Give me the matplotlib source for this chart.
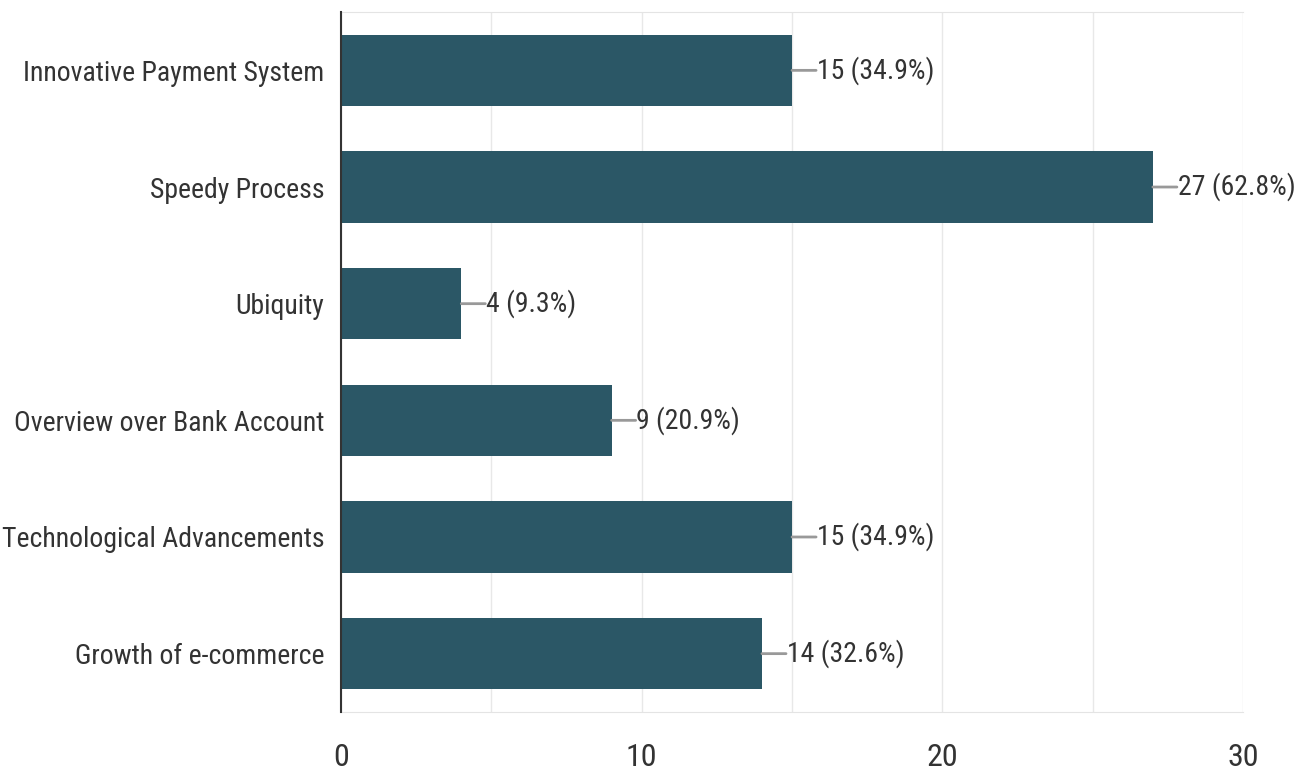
import matplotlib.pyplot as plt
from matplotlib.ticker import MultipleLocator

plt.rcParams['font.family'] = ['Roboto Condensed', 'DejaVu Sans']

# Survey answers, top to bottom
categories = [
    'Innovative Payment System',
    'Speedy Process',
    'Ubiquity',
    'Overview over Bank Account',
    'Technological Advancements',
    'Growth of e-commerce',
]
counts = [15, 27, 4, 9, 15, 14]
percents = [34.9, 62.8, 9.3, 20.9, 34.9, 32.6]
x_ticks = [0, 10, 20, 30]

bar_color = '#2b5766'
text_color = '#333333'

fig = plt.figure(figsize=(13.06, 7.76), dpi=100)
ax = fig.add_axes([0.2611, 0.0825, 0.6907, 0.902])

ypos = list(range(len(categories)))
ax.barh(ypos, counts, height=0.61, color=bar_color, zorder=3)

ax.set_ylim(len(categories) - 0.5, -0.5)
ax.set_xlim(0, 30)
ax.set_yticks(ypos)
ax.set_yticklabels(categories, fontsize=20, color=text_color)
ax.set_xticks(x_ticks)
ax.set_xticklabels([str(t) for t in x_ticks], fontsize=23, color=text_color)
ax.xaxis.set_minor_locator(MultipleLocator(5))
ax.tick_params(axis='y', length=0, pad=12)
ax.tick_params(axis='x', which='both', length=0, pad=22)

ax.grid(axis='x', which='both', color='#e8e8e8', linewidth=1, zorder=0)

for side in ['top', 'bottom']:
    ax.spines[side].set_color('#e4e4e4')
ax.spines['right'].set_visible(False)
ax.spines['left'].set_color('#333333')
ax.spines['left'].set_linewidth(1.5)
ax.spines['left'].set_zorder(4)

# value labels with short leader lines
for y, c, p in zip(ypos, counts, percents):
    ax.annotate('', xy=(c, y), xytext=(c + 0.8, y),
                arrowprops=dict(arrowstyle='-', color='#999999', lw=2,
                                shrinkA=0, shrinkB=0), zorder=4)
    ax.text(c + 0.82, y, f'{c} ({p}%)', va='center', ha='left',
            fontsize=20, color=text_color, zorder=4)

fig.savefig('out.png', dpi=100)
